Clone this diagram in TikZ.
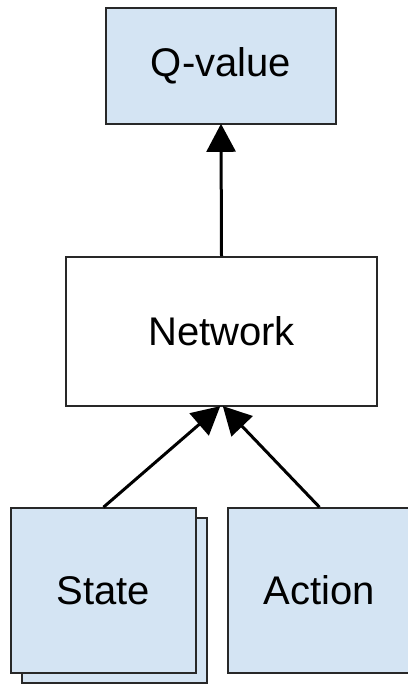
\documentclass[tikz,border=0pt]{standalone}
\usepackage{fontspec}
\setmainfont{Liberation Sans}
\usetikzlibrary{arrows.meta}
\definecolor{boxblue}{RGB}{212,228,243}
\definecolor{edge}{RGB}{40,40,40}
\tikzset{
  box/.style={draw=edge, line width=1.6pt, inner sep=0pt, font=\fontsize{40}{48}\selectfont},
  bluebox/.style={box, fill=boxblue},
  conn/.style={line width=3pt, -{Triangle[length=28pt,width=29pt]}, shorten >=-1pt}
}
\begin{document}
\begin{tikzpicture}[x=1pt,y=-1pt]
\useasboundingbox (0,0) rectangle (407,684);
\fill[white] (0,0) rectangle (407,684);
\node[bluebox, minimum width=230pt, minimum height=116pt] (q) at (221,66) {Q-value};
\node[box, fill=white, minimum width=311pt, minimum height=149pt] (net) at (221.5,331.5) {Network};
\node[bluebox, minimum width=185pt, minimum height=165pt] (stateback) at (114.5,600.5) {};
\node[bluebox, minimum width=185pt, minimum height=165pt] (state) at (103.5,590.5) {State};
\node[bluebox, minimum width=188pt, minimum height=165pt] (action) at (322,590.5) {};
\node[font=\fontsize{40}{48}\selectfont, inner sep=0pt] (actiontext) at (319.5,590.5) {Action};
\draw[conn] (net.north) -- (q.south);
\draw[conn] (state.north) -- ([xshift=-2pt]net.south);
\draw[conn] ([xshift=-2.5pt]action.north) -- ([xshift=2pt]net.south);
\end{tikzpicture}
\end{document}
